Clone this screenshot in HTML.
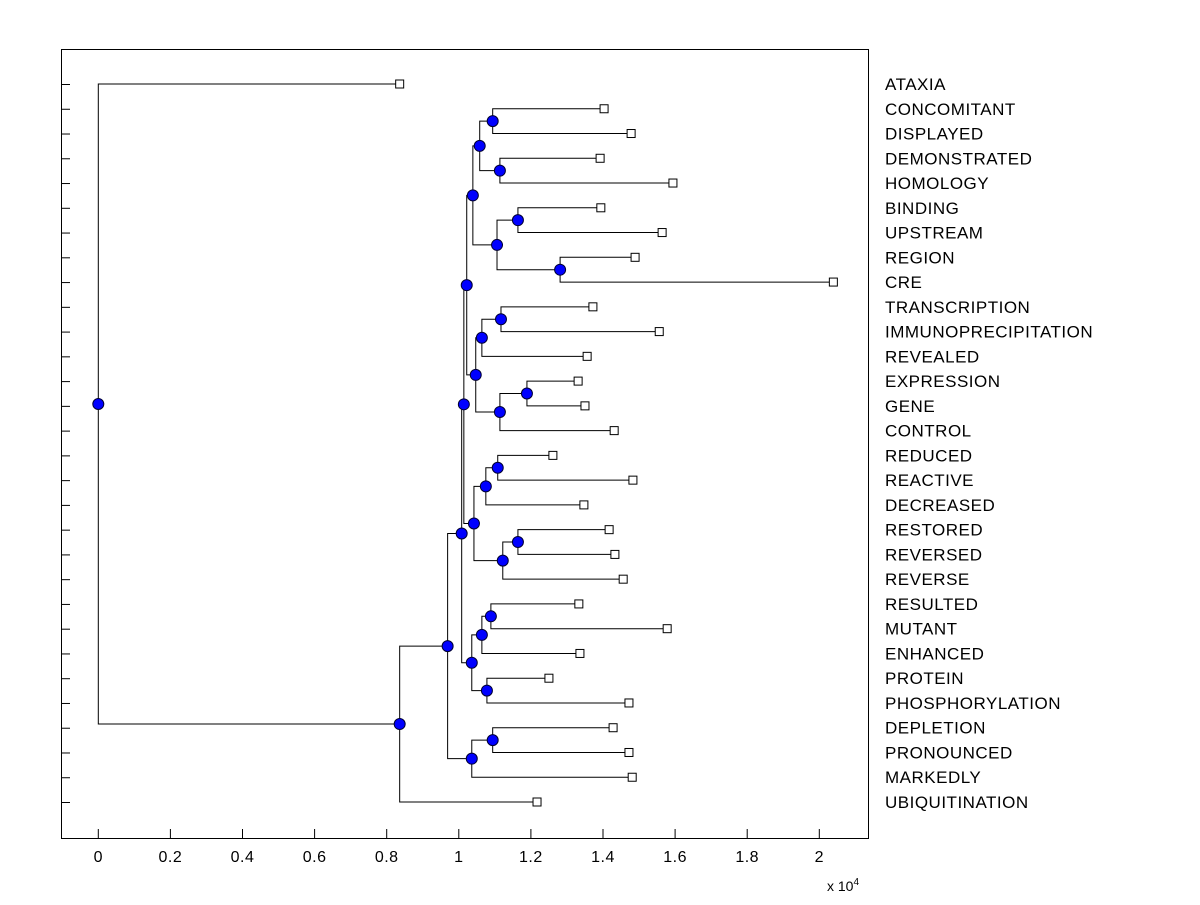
<!DOCTYPE html>
<html><head><meta charset="utf-8"><style>
body{margin:0;background:#fff;}
svg text{font-family:"Liberation Sans",Arial,sans-serif;fill:#000;}
</style></head><body>
<svg id="chart" width="1200" height="900" xmlns="http://www.w3.org/2000/svg">
<rect x="0" y="0" width="1200" height="900" fill="#fff"/>
<rect x="61.5" y="49.5" width="807" height="789" fill="none" stroke="#000" stroke-width="1"/>
<g id="xticks"></g>
<g id="yticks"></g>
<g id="links"></g>
<g id="marks"></g>
<text x="827" y="891" font-size="14">x 10<tspan font-size="10" dy="-6">4</tspan></text>
</svg>
<script>
const labels = ["ATAXIA","CONCOMITANT","DISPLAYED","DEMONSTRATED","HOMOLOGY","BINDING","UPSTREAM","REGION","CRE","TRANSCRIPTION","IMMUNOPRECIPITATION","REVEALED","EXPRESSION","GENE","CONTROL","REDUCED","REACTIVE","DECREASED","RESTORED","REVERSED","REVERSE","RESULTED","MUTANT","ENHANCED","PROTEIN","PHOSPHORYLATION","DEPLETION","PRONOUNCED","MARKEDLY","UBIQUITINATION"];
const leafValues = [0.836,1.403,1.478,1.392,1.594,1.394,1.564,1.489,2.039,1.372,1.556,1.356,1.331,1.350,1.431,1.261,1.483,1.347,1.417,1.433,1.456,1.333,1.578,1.336,1.250,1.472,1.428,1.472,1.481,1.217];
const mergeLeft = [1,3,30,5,7,33,32,9,37,12,39,38,36,15,43,18,45,44,42,21,49,24,50,48,26,54,53,56,0];
const mergeRight = [2,4,31,6,8,34,35,10,11,13,14,40,41,16,17,19,20,46,47,22,23,25,51,52,27,28,55,29,57];
const mergeHeights = [1.094,1.114,1.058,1.164,1.281,1.106,1.039,1.117,1.064,1.189,1.114,1.047,1.022,1.108,1.075,1.164,1.122,1.042,1.014,1.089,1.064,1.078,1.036,1.008,1.094,1.036,0.969,0.836,0.0];
const xTicks = [0,0.2,0.4,0.6,0.8,1,1.2,1.4,1.6,1.8,2];
const xTickLabels = ["0","0.2","0.4","0.6","0.8","1","1.2","1.4","1.6","1.8","2"];

const NS="http://www.w3.org/2000/svg";
const xs = v => 98.3 + 360.5*v;
const ys = i => 84 + i*(802-84)/29;
function mk(tag, attrs, parent){const e=document.createElementNS(NS,tag);for(const k in attrs)e.setAttribute(k,attrs[k]);document.getElementById(parent).appendChild(e);return e;}

xTicks.forEach((t,i)=>{
  const l=mk('line',{x1:xs(t),x2:xs(t),y1:838,y2:829,stroke:'#000'},'xticks');
  
  
  const tx=mk('text',{x:xs(t),y:862,'font-size':16,'text-anchor':'middle','letter-spacing':0.5},'xticks');
  tx.textContent=xTickLabels[i];
  
  
});
labels.forEach((lab,i)=>{
  const l=mk('line',{x1:61,x2:70,y1:ys(i)+0.5,y2:ys(i)+0.5,stroke:'#000'},'yticks');
  
  
  const tx=mk('text',{x:885,y:ys(i)+6,'font-size':17,'letter-spacing':0.5},'yticks');
  tx.textContent=lab;
  
  
});
const nx=[],ny=[];
leafValues.forEach((v,i)=>{nx[i]=xs(v);ny[i]=ys(i);});
const n=leafValues.length;
mergeHeights.forEach((h,k)=>{
  const id=n+k,a=mergeLeft[k],b=mergeRight[k];
  nx[id]=xs(h);ny[id]=(ny[a]+ny[b])/2;
  const p=mk('path',{d:`M${nx[a]},${ny[a]}H${nx[id]}V${ny[b]}H${nx[b]}`,fill:'none',stroke:'#000','stroke-width':1},'links');
  
  
});
leafValues.forEach((v,i)=>{
  const r=mk('rect',{x:nx[i]-4,y:ny[i]-4,width:8,height:8,fill:'#fff',stroke:'#000'},'marks');
  
  
});
mergeHeights.forEach((h,k)=>{
  const id=n+k;
  const c=mk('circle',{cx:nx[id],cy:ny[id],r:5.5,fill:'#0000ff',stroke:'#000033','stroke-width':1},'marks');
  
  
});
</script>
</body></html>
